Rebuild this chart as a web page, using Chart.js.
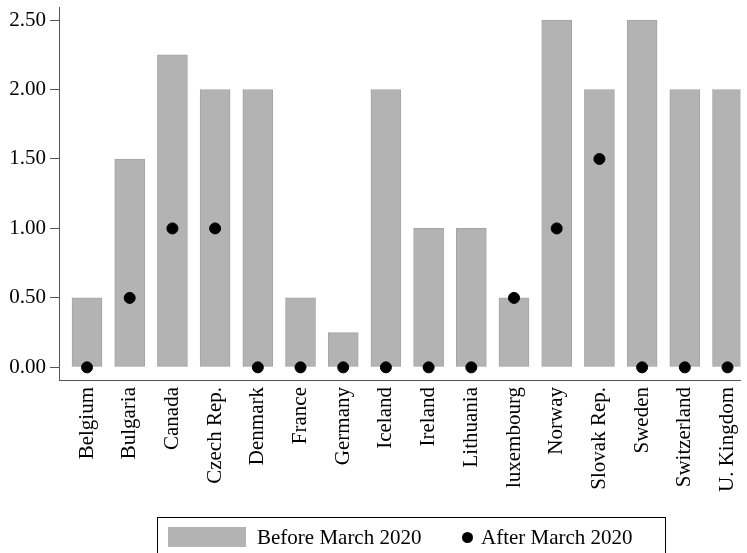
<!DOCTYPE html>
<html>
<head>
<meta charset="utf-8">
<script src="https://cdn.jsdelivr.net/npm/chart.js@4/dist/chart.umd.min.js"></script>
<style>
  html, body { margin: 0; padding: 0; background: #fff; }
  #wrap { position: relative; width: 747px; height: 553px; overflow: hidden; }
  #legend {
    position: absolute; left: 157px; top: 517px; width: 509px; height: 44px;
    border: 1px solid #000; box-sizing: border-box;
    font-family: "Liberation Serif", serif; font-size: 21px; color: #000;
  }
  #legend .swatch { position: absolute; left: 10px; top: 9px; width: 78px; height: 20px; background: #b3b3b3; }
  #legend .t1 { position: absolute; left: 99px; top: 7px; white-space: nowrap; }
  #legend .dot { position: absolute; left: 304px; top: 14px; width: 11px; height: 11px; border-radius: 50%; background: #000; }
  #legend .t2 { position: absolute; left: 323px; top: 7px; white-space: nowrap; }
</style>
</head>
<body>
<div id="wrap">
  <canvas id="c" width="747" height="553"></canvas>
  <div id="legend">
    <div class="swatch"></div><div class="t1">Before March 2020</div>
    <div class="dot"></div><div class="t2">After March 2020</div>
  </div>
</div>
<script>
// Countries along the horizontal axis
const countries = ["Belgium", "Bulgaria", "Canada", "Czech Rep.", "Denmark", "France", "Germany",
  "Iceland", "Ireland", "Lithuania", "luxembourg", "Norway", "Slovak Rep.", "Sweden",
  "Switzerland", "U. Kingdom"];
// Values before and after March 2020
const beforeMarch = [0.5, 1.5, 2.25, 2.0, 2.0, 0.5, 0.25, 2.0, 1.0, 1.0, 0.5, 2.5, 2.0, 2.5, 2.0, 2.0];
const afterMarch  = [0.0, 0.5, 1.0, 1.0, 0.0, 0.0, 0.0, 0.0, 0.0, 0.0, 0.5, 1.0, 1.5, 0.0, 0.0, 0.0];
// Value-axis tick labels
const yTicks = [0, 0.5, 1.0, 1.5, 2.0, 2.5];

const font = { family: "'Liberation Serif', serif", size: 21 };
const axisColor = '#555555';

new Chart(document.getElementById('c'), {
  type: 'bar',
  data: {
    datasets: [
      {
        type: 'scatter',
        label: 'After March 2020',
        data: afterMarch.map((v, i) => ({ x: i, y: v })),
        backgroundColor: '#000',
        borderColor: '#000',
        pointRadius: 5.5,
        pointHoverRadius: 5.5,
        order: 1
      },
      {
        type: 'bar',
        label: 'Before March 2020',
        data: beforeMarch.map((v, i) => ({ x: i, y: v })),
        backgroundColor: '#b3b3b3',
        borderColor: '#a4a4a4',
        borderWidth: 1,
        barThickness: 30,
        order: 2
      }
    ]
  },
  options: {
    responsive: false,
    animation: false,
    layout: { padding: { top: 7, right: 0, left: 0, bottom: 0 } },
    plugins: { legend: { display: false }, tooltip: { enabled: false } },
    scales: {
      x: {
        type: 'linear',
        offset: false,
        min: -0.656,
        max: 15.304,
        afterBuildTicks: (s) => { s.ticks = countries.map((_, i) => ({ value: i })); },
        afterFit: (s) => { s.height = 173; s.paddingLeft = 0; s.paddingRight = 0; },
        grid: { display: true, drawOnChartArea: false, drawTicks: true, tickLength: 7, color: 'rgba(0,0,0,0)', offset: false },
        border: { display: true, color: axisColor, width: 1 },
        ticks: {
          autoSkip: false,
          minRotation: 90,
          maxRotation: 90,
          padding: 0,
          color: '#000',
          font: font,
          callback: (v) => countries[v]
        }
      },
      y: {
        type: 'linear',
        min: -0.091,
        max: 2.594,
        afterBuildTicks: (s) => { s.ticks = yTicks.map(v => ({ value: v })); },
        afterFit: (s) => { s.width = 59; s.paddingTop = 0; s.paddingBottom = 0; },
        grid: { display: true, drawOnChartArea: false, drawTicks: true, tickLength: 9, color: axisColor },
        border: { display: true, color: axisColor, width: 1 },
        ticks: {
          padding: 4,
          color: '#000',
          font: font,
          callback: (v) => Number(v).toFixed(2)
        }
      }
    }
  }
});
</script>
</body>
</html>
